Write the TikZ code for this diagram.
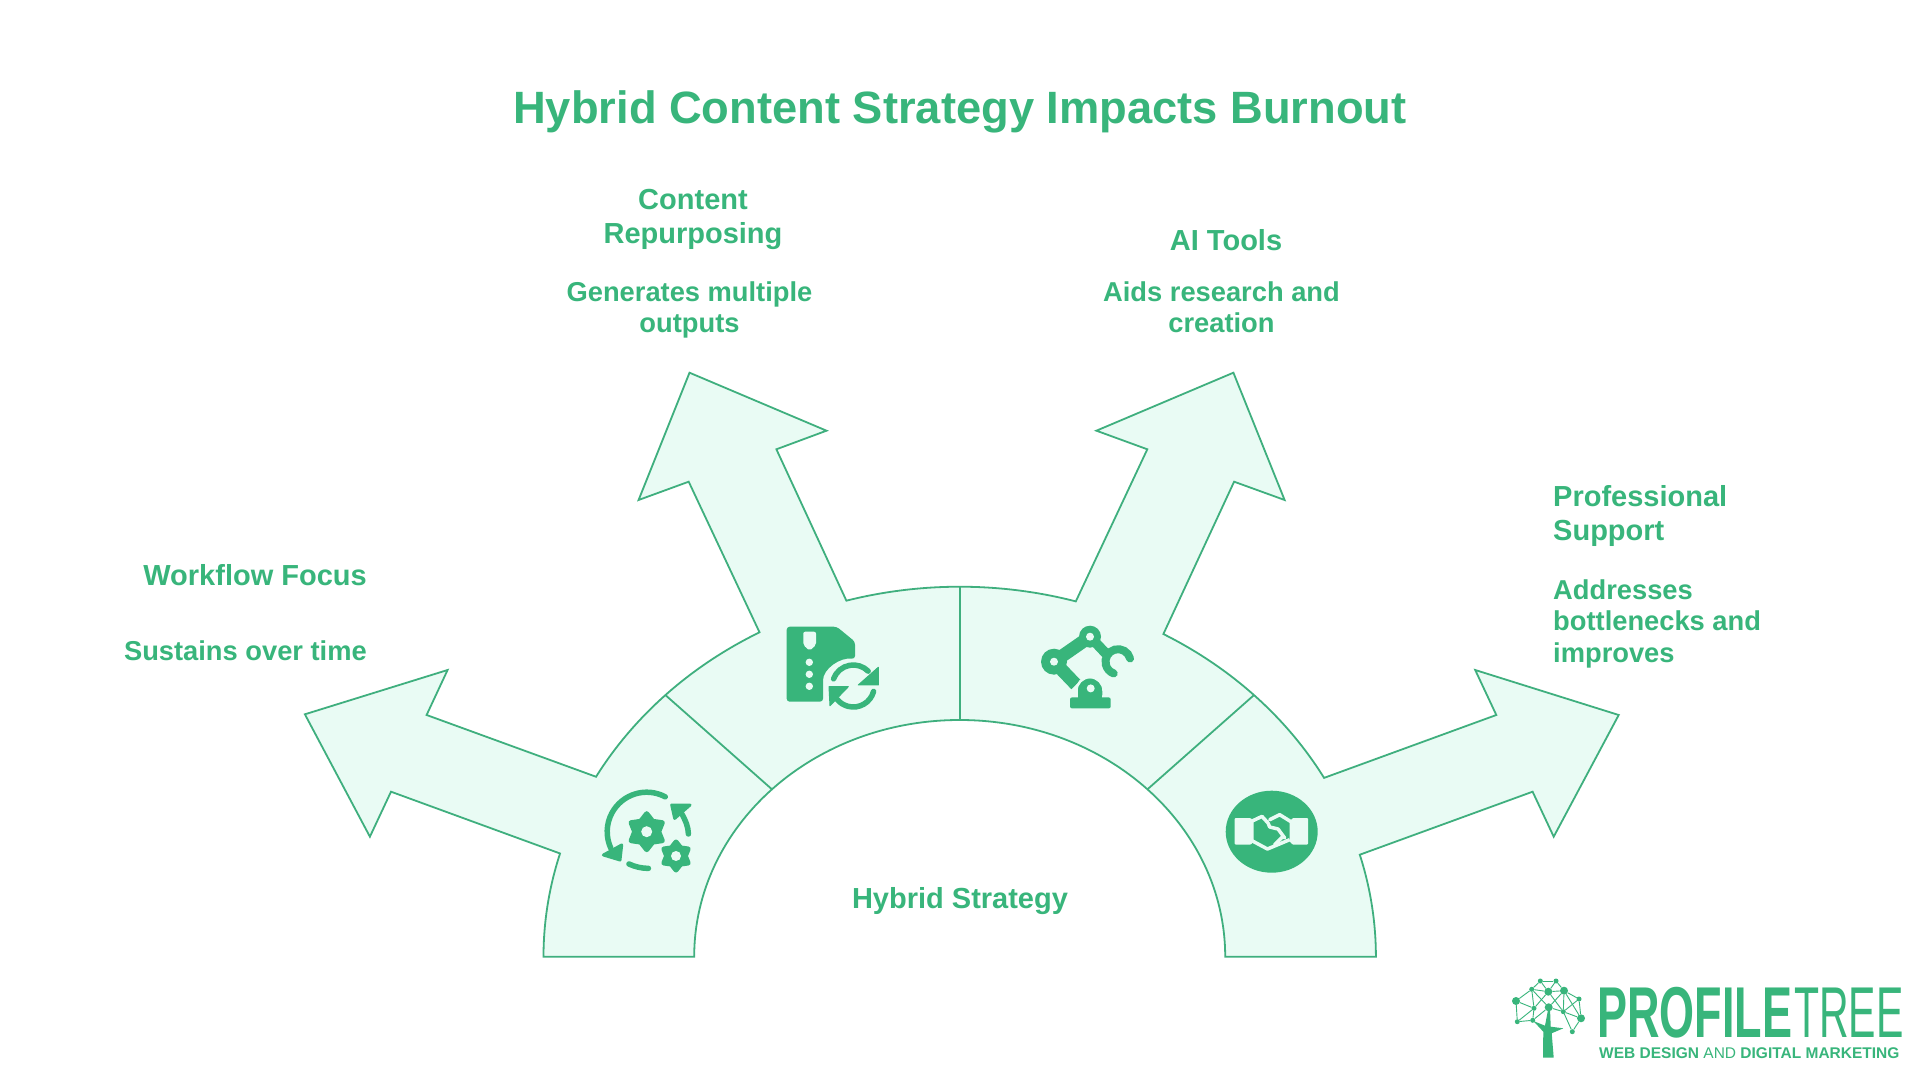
\documentclass[tikz,border=0pt]{standalone}
\usepackage{fontspec}
\setmainfont{Liberation Sans}
\usetikzlibrary{calc, shapes.geometric}

\definecolor{leaf}{HTML}{38B57B}
\definecolor{edgeline}{HTML}{3FAF7E}
\definecolor{panel}{HTML}{E9FBF4}

\tikzset{
    headtext/.style={font=\bfseries\fontsize{29}{34}\selectfont, text=leaf, inner sep=0pt},
    desctext/.style={font=\bfseries\fontsize{27.3}{31.5}\selectfont, text=leaf, inner sep=0pt},
    bandline/.style={draw=edgeline, line width=1.8pt, line join=miter},
    iconline/.style={draw=leaf, line width=5.5pt, line cap=round},
    iconfill/.style={fill=leaf, draw=leaf, line width=3pt, line join=round},
    gearstar/.style={star, star points=6, star point ratio=1.5, fill=leaf, draw=leaf,
        line width=5pt, line join=round, inner sep=0pt},
    gearhole/.style={circle, fill=panel, inner sep=0pt},
    twig/.style={draw=leaf, line width=0.9pt},
    twigbig/.style={circle, fill=leaf, minimum size=8pt, inner sep=0pt},
    twigsmall/.style={circle, fill=leaf, minimum size=5pt, inner sep=0pt},
}

\begin{document}
\begin{tikzpicture}[x=1pt,y=1pt]

    \useasboundingbox (0,0) rectangle (1920,1080);
    \fill[white] (0,0) rectangle (1920,1080);

    \coordinate (c) at (959.7,123.3);

    % band with the four arrows
    \path[bandline, fill=panel] (543.5,123.3)
        arc[start angle=180, end angle=163.8, x radius=416.2, y radius=370]
        -- (391,288.3) -- (369.9,243.3) -- (304.9,365.7) -- (447.6,410) -- (426.6,365)
        -- ($(c)+(150.9:416.2 and 370)$)
        arc[start angle=150.9, end angle=118.75, x radius=416.2, y radius=370]
        -- (688.7,598.3) -- (638.6,580) -- (689.5,707.3) -- (826.5,649.3) -- (776.4,630.7)
        -- ($(c)+(105.8:416.2 and 370)$)
        arc[start angle=105.8, end angle=73.8, x radius=416.2, y radius=370]
        -- (1147.3,630.7) -- (1096.4,649.3) -- (1233.4,707.3) -- (1284.6,580) -- (1234.1,598.3)
        -- ($(c)+(60.7:416.2 and 370)$)
        arc[start angle=60.7, end angle=28.9, x radius=416.2, y radius=370]
        -- (1496.3,365) -- (1475.2,410) -- (1618.7,365) -- (1553.7,243.3) -- (1532.6,288.3)
        -- ($(c)+(16:416.2 and 370)$)
        arc[start angle=16, end angle=0, x radius=416.2, y radius=370]
        -- (1225.2,123.3)
        arc[start angle=0, end angle=180, x radius=265.5, y radius=236.7]
        -- cycle;

    \coordinate (o_l) at ($(c)+(135:416.2 and 370)$);
    \coordinate (i_l) at ($(c)+(135:265.5 and 236.7)$);
    \coordinate (o_m) at ($(c)+(90:416.2 and 370)$);
    \coordinate (i_m) at ($(c)+(90:265.5 and 236.7)$);
    \coordinate (o_r) at ($(c)+(45:416.2 and 370)$);
    \coordinate (i_r) at ($(c)+(45:265.5 and 236.7)$);
    \draw[bandline] (o_l) -- (i_l);
    \draw[bandline] (o_m) -- (i_m);
    \draw[bandline] (o_r) -- (i_r);

    % texts
    \node[headtext, font=\bfseries\fontsize{45.3}{50}\selectfont] (title) at (960,968) {Hybrid Content Strategy Impacts Burnout};
    \node[headtext] (h_m) at (960,179) {Hybrid Strategy};

    \node[headtext, anchor=east] (h_w) at (367,505) {Workflow Focus};
    \node[desctext, anchor=east] (d_w) at (367,429) {Sustains over time};

    \node[headtext, align=center] (h_c) at (693,861) {Content\\Repurposing};
    \node[desctext, align=center] (d_c) at (689.5,770) {Generates multiple\\outputs};

    \node[headtext] (h_a) at (1226,840) {AI Tools};
    \node[desctext, align=center] (d_a) at (1221.5,773) {Aids research and\\creation};

    \node[headtext, align=left, anchor=west] (h_s) at (1553,564) {Professional\\Support};
    \node[desctext, align=left, anchor=west] (d_s) at (1553,456.5) {Addresses\\bottlenecks and\\improves};

    % gears icon
    \begin{scope}[shift={(646.7,248.3)}]
        \draw[iconline] (62:39.5) arc[start angle=62, end angle=205, radius=39.5];
        \path[iconfill] (-43.3,-23.3) -- (-25,-13.3) -- (-26.7,-28.3) -- cycle;
        \draw[iconline] (41.7,-2.3) .. controls (41.5,5) and (39,11) .. (35,18);
        \path[iconfill] (25,26.7) -- (43.3,26.7) -- (28,13.3) -- cycle;
        \draw[iconline] (-17.7,-32.3) .. controls (-12,-35) and (-5,-36.7) .. (1.7,-36.7);
        \node[gearstar, minimum size=36pt] (g_a) at (0,0) {};
        \node[gearhole, minimum size=11pt] (g_ah) at (0,0) {};
        \node[gearstar, minimum size=28pt] (g_b) at (29.3,-24.3) {};
        \node[gearhole, minimum size=10pt] (g_bh) at (29.3,-24.3) {};
    \end{scope}

    % zipped file icon
    \begin{scope}[shift={(820,416)}]
        \path[fill=leaf, rounded corners=3pt] (-33.3,37.3) -- (16.7,37.3) -- (35,22.3) -- (35,5)
            .. controls (20,7) and (3,-5) .. (3,-19.3) -- (3,-37.7) -- (-33.3,-37.7) -- cycle;
        \path[fill=panel, rounded corners=2pt] (-16.7,32.3) -- (-4,32.3) -- (-4,19) -- (-10.4,13.3) -- (-16.7,19) -- cycle;
        \fill[panel] (-10.7,1.7) circle (3.7);
        \fill[panel] (-10.7,-10.3) circle (3.7);
        \fill[panel] (-10.7,-22.3) circle (3.7);
        \draw[iconline] ($(33.3,-22)+(160:21)$) arc[start angle=160, end angle=45, radius=21];
        \path[iconfill, line width=1pt] (58.3,-3.3) -- (58.3,-21) -- (38.3,-21) -- cycle;
        \draw[iconline] ($(33.3,-22)+(-15:21)$) arc[start angle=-15, end angle=-140, radius=21];
        \path[iconfill, line width=1pt] (9,-22.7) -- (28.3,-22.7) -- (10,-41.7) -- cycle;
    \end{scope}

    % robot arm icon
    \begin{scope}[shift={(1090,413.3)}]
        \draw[leaf, line width=13pt] (-36,5) -- (0,30);
        \draw[leaf, line width=13pt] (-36,5) -- (-14,-18);
        \draw[leaf, line width=10pt] (0,30) -- (17,12);
        \draw[leaf, line width=8pt, line cap=round] ($(28,5)+(15:12.5)$) arc[start angle=15, end angle=250, radius=12.5];
        \fill[leaf] (0,30) circle (11);
        \fill[leaf] (-36,5) circle (13);
        \fill[panel] (0,30) circle (4);
        \fill[panel] (-36,5) circle (4);
        \path[fill=leaf, draw=panel, line width=2.5pt] (-13.5,-30) -- (-13.5,-24) arc[start angle=180, end angle=0, radius=13.5] -- (13.5,-30) -- cycle;
        \path[fill=leaf, rounded corners=2pt] (-20,-30.7) -- (20.7,-30.7) -- (20.7,-41.7) -- (-20,-41.7) -- cycle;
        \fill[leaf] (-12,-31) rectangle (12,-25);
        \fill[panel] (0.7,-21.7) circle (4);
    \end{scope}

    % handshake icon
    \begin{scope}[shift={(1271.7,248.3)}]
        \fill[leaf] (0,0) ellipse (46 and 41);
        \path[fill=panel, rounded corners=1pt] (-37,13.7) -- (-21,13.7) -- (-18,10) -- (-18,-10) -- (-21,-13) -- (-37,-13) -- cycle;
        \path[fill=panel, rounded corners=1pt] (36.3,13.7) -- (21,13.7) -- (18,10) -- (18,-10) -- (21,-13) -- (36.3,-13) -- cycle;
        \draw[panel, line width=3.5pt, line join=round] (-20.3,-8.7) -- (-4.3,-17.3) -- (18,-8);
        \draw[panel, line width=3.5pt, line join=round, line cap=round] (-20.3,10.3) -- (-9.7,15.3) -- (-3.7,8.7) -- (-2,4.7) -- (6.3,2.7) -- (13,-6.3);
        \draw[panel, line width=3.5pt, line join=round, line cap=round] (-2,12) -- (8,17) -- (19.7,9.7);
        \draw[panel, line width=3.5pt, line cap=round] (3,-13) -- (11.3,-4.7);
    \end{scope}

    % logo
    \path[fill=leaf] (1543,22.3) -- (1543.3,48.3) -- (1533.3,59) -- (1545,54.3) -- (1548.3,71.7) -- (1550,71.7)
        -- (1550.7,53.3) -- (1563.3,51.7) -- (1551.7,46.7) -- (1553.7,22.3) -- cycle;

    \node[twigbig] (n_1) at (1516,79) {};
    \node[twigbig] (n_2) at (1548.3,88.3) {};
    \node[twigbig] (n_3) at (1564,89.3) {};
    \node[twigbig] (n_4) at (1581,61.7) {};
    \node[twigbig] (n_5) at (1548.7,72.7) {};
    \node[twigsmall] (n_6) at (1531.7,90.7) {};
    \node[twigsmall] (n_7) at (1540.3,99) {};
    \node[twigsmall] (n_8) at (1556,99) {};
    \node[twigsmall] (n_9) at (1579,81) {};
    \node[twigsmall] (n_10) at (1534,71.7) {};
    \node[twigsmall] (n_11) at (1563.3,68.3) {};
    \node[twigsmall] (n_12) at (1517.3,58.3) {};
    \node[twigsmall] (n_13) at (1532.7,59.7) {};
    \node[twigsmall] (n_14) at (1572.3,48.3) {};

    \path[twig]
    (n_1) edge (n_6) edge (n_10) edge (n_12)
    (n_6) edge (n_7) edge (n_2) edge (n_10) edge (n_5)
    (n_7) edge (n_8) edge (n_2)
    (n_8) edge (n_2) edge (n_3)
    (n_2) edge (n_3) edge (n_10) edge (n_11)
    (n_3) edge (n_9) edge (n_5) edge (n_11) edge (n_4)
    (n_9) edge (n_4) edge (n_11)
    (n_4) edge (n_11) edge (n_14)
    (n_5) edge (n_13) edge (n_11)
    (n_10) edge (n_13) edge (n_12)
    (n_11) edge (n_14)
    (n_12) edge (n_13);

    \node[inner sep=0pt, anchor=base west, text=leaf] (l_a) at (1597,43)
        {\fontsize{72}{72}\selectfont\scalebox{0.625}[1]{\bfseries PROFILE}\hspace{2pt}\scalebox{0.57}[1]{TREE}};
    \node[inner sep=0pt, anchor=base west, text=leaf] (l_c) at (1599,21.7)
        {\fontsize{15.5}{18}\selectfont\textbf{WEB DESIGN} AND \textbf{DIGITAL MARKETING}};

\end{tikzpicture}
\end{document}
